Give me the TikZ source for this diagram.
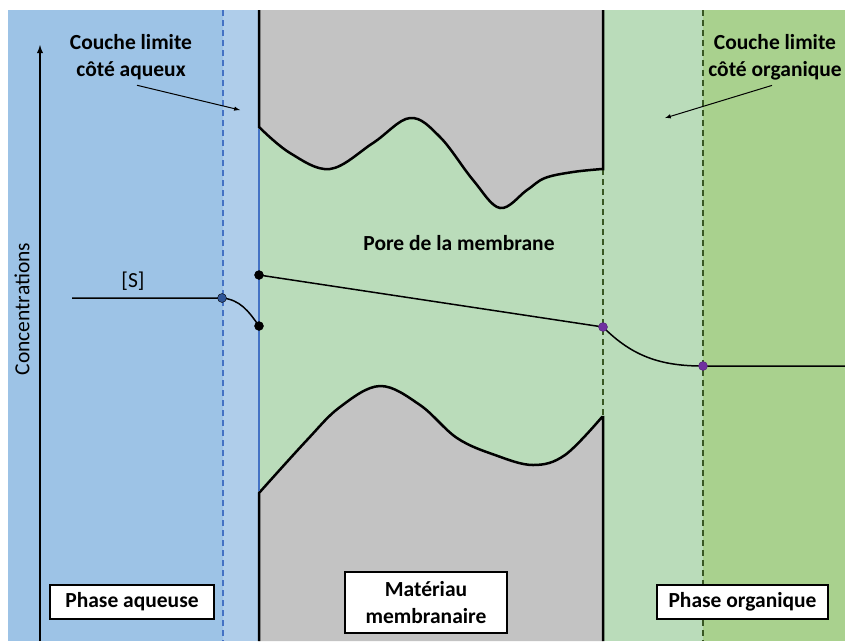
\documentclass[tikz,border=0pt]{standalone}
\usepackage{fontspec}
\setmainfont{Carlito}
\usepackage{tkz-euclide}
\usetikzlibrary{arrows,calc}
\definecolor{AqueousClr}{HTML}{9DC3E6}
\definecolor{AqLayerClr}{HTML}{AFCDEA}
\definecolor{OrganicClr}{HTML}{A9D18E}
\definecolor{PoreClr}{HTML}{BADCBA}
\definecolor{MembraneClr}{HTML}{C3C3C3}
\definecolor{BlueLineClr}{HTML}{4472C4}
\definecolor{GreenLineClr}{HTML}{385723}
\definecolor{PointClr}{HTML}{7030A0}
\definecolor{BluePointClr}{HTML}{2F5597}
\tikzset{
  boldlabel/.style={font=\fontsize{21.5}{27}\selectfont\bfseries,align=center},
  phasebox/.style={boldlabel,draw=black,fill=white,line width=1.2pt,inner sep=2pt},
  layerline/.style={line width=2.2pt,dash pattern=on 6pt off 4pt}
}

\begin{document}
\begin{tikzpicture}[x=1pt,y=-1pt,font=\fontsize{21.5}{27}\selectfont]
\useasboundingbox (0,0) rectangle (845,641);

% phases
\fill[AqueousClr] (8,10) rectangle (223,641);
\fill[AqLayerClr] (223,10) rectangle (259,641);
\fill[PoreClr] (259,10) rectangle (703,641);
\fill[OrganicClr] (703,10) rectangle (845,641);

\draw[layerline,BlueLineClr] (223,10) -- (223,641);
\draw[layerline,GreenLineClr] (603,169) -- (603,417);
\draw[layerline,GreenLineClr] (703,10) -- (703,641);

% membrane
\draw[line width=2.5pt,fill=MembraneClr] (259,10) -- (259,127)
  -- plot[smooth,tension=.6] coordinates {(259,127) (290,153) (330,169) (373,143)
  (410,118) (440,137) (473,180) (500,208) (527,190) (545,178) (573,172) (602,169)}
  -- (603,169) -- (603,10);
\draw[line width=2.5pt,fill=MembraneClr] (259,641) -- (259,493)
  -- plot[smooth,tension=.6] coordinates {(259,493) (307,440) (340,407) (380,386)
  (420,405) (457,438) (495,455) (533,465) (565,455) (602,417)}
  -- (603,417) -- (603,641);
\draw[line width=1.2pt,BlueLineClr] (259,129) -- (259,491);

% axe
\draw[-latex,line width=1.8pt] (40,641) -- (40,45);
\node[rotate=90] (concLabel) at (22,309) {Concentrations};

% profil
\tkzDefPoints{72/298/S0,222/298/S1,259/326/S2,259/275/S3,603/327/S4,703/366/S5,845/366/S6}
\draw[line width=1.5pt] (S0) -- (S1) to[out=-5,in=125] (S2);
\draw[line width=1.5pt] (S3) -- (S4) to[out=-45,in=180] (S5) -- (S6);
\tkzDrawPoints[size=9,color=black,fill=BluePointClr](S1)
\tkzDrawPoints[size=9,color=black,fill=black](S2,S3)
\tkzDrawPoints[size=9,color=PointClr!70!black,fill=PointClr](S4,S5)
\node (sLabel) at (133,281) {[S]};

% textes
\node[boldlabel] (aqLayerLabel) at (131,57) {Couche limite\\côté aqueux};
\node[boldlabel] (orgLayerLabel) at (775,57) {Couche limite\\côté organique};
\node[boldlabel] (poreLabel) at (459,243) {Pore de la membrane};
\coordinate (aqLayerTip) at (240,110);
\coordinate (orgLayerTip) at (665,118);
\draw[-latex,line width=1pt] ($(aqLayerLabel.south)+(6,2)$) -- (aqLayerTip);
\draw[-latex,line width=1pt] ($(orgLayerLabel.south)+(-3,2)$) -- (orgLayerTip);

\node[phasebox,minimum width=164pt,minimum height=34pt] (aqPhase) at (132,602) {Phase aqueuse};
\node[phasebox,minimum width=162pt,minimum height=61pt] (membPhase) at (426,602.5) {Matériau\\membranaire};
\node[phasebox,minimum width=171pt,minimum height=34pt] (orgPhase) at (742.5,602) {Phase organique};

\end{tikzpicture}
\end{document}
